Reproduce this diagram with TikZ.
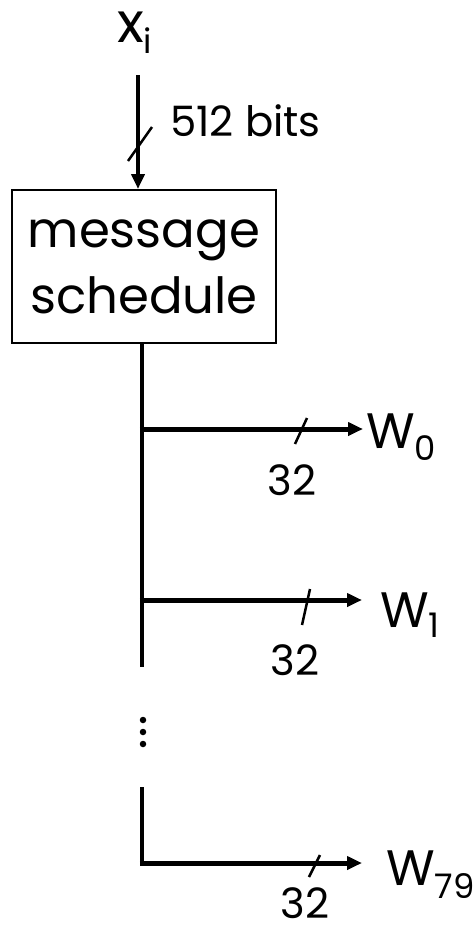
\documentclass[tikz,border=0pt]{standalone}
\usepackage{fontspec}
\setmainfont{Poppins}
\usetikzlibrary{arrows.meta}
% lowered subscript in the running text font
\newcommand\lowsub[2]{\raisebox{-#2}{\fontsize{34}{34}\selectfont #1}}
\tikzset{
  lbl/.style={inner sep=0pt, font=\fontsize{42}{42}\selectfont},
  big/.style={inner sep=0pt, font=\fontsize{50}{50}\selectfont},
  wire/.style={line width=4.5bp},
  bus/.style={line width=5bp, -{Triangle[length=15bp,width=13bp]}},
  tick/.style={line width=2.5bp},
  boxnode/.style={draw, line width=2bp, minimum width=264bp, minimum height=153bp,
    inner sep=0pt, align=center, font=\fontsize{50}{66}\selectfont},
  dot/.style={circle, fill, inner sep=0pt, minimum size=6.5bp}
}
\begin{document}
\begin{tikzpicture}[x=1bp,y=-1bp]
\useasboundingbox (0,0) rectangle (475,926);

% input block
\node[inner sep=0pt, font=\fontsize{56}{56}\selectfont, anchor=base west] (xi) at (117,42) {x\lowsub{i}{11bp}};
\coordinate (in) at (138,75);
\node[boxnode] (ms) at (144,266.5) {message\\schedule};
\draw[line width=4bp, -{Triangle[length=15bp,width=13bp]}] (in) -- (in |- ms.north);
\draw[tick] (128,161) -- (152,127);
\node[lbl, anchor=base west] (bits) at (170,136) {512 bits};

% trunk leaving the schedule
\coordinate (top) at (142,343);
\coordinate (j0) at (142,429);
\coordinate (j1) at (142,600);
\coordinate (mid) at (142,667);
\coordinate (low) at (142,787);
\coordinate (j79) at (142,863);
\draw[wire] (top) -- (mid);
\draw[wire] (low) -- (j79);

% dots between the two parts of the trunk
\node[dot] (d1) at (143,720) {};
\node[dot] (d2) at (143,732) {};
\node[dot] (d3) at (143,744) {};

% word outputs
\node[big, anchor=base west] (w0) at (366,448) {W\lowsub{0}{12bp}};
\node[big, anchor=base west] (w1) at (380,627) {W\lowsub{1}{10bp}};
\node[big, anchor=base west] (w79) at (386,885) {W\lowsub{79}{13bp}};

\coordinate (e0) at (363,429);
\coordinate (e1) at (362,600);
\coordinate (e79) at (362,863);
\draw[bus] ([xshift=-2.25bp]j0) -- (e0);
\draw[bus] ([xshift=-2.25bp]j1) -- (e1);
\draw[bus] ([xshift=-2.25bp]j79) -- (e79);

\draw[tick] (295,444) -- (307,418);
\draw[tick] (302,625) -- (310,589);
\draw[tick] (309,877) -- (320,855);

\node[lbl] (n0) at (292,480) {32};
\node[lbl] (n1) at (295,660) {32};
\node[lbl] (n79) at (305,903) {32};
\end{tikzpicture}
\end{document}
